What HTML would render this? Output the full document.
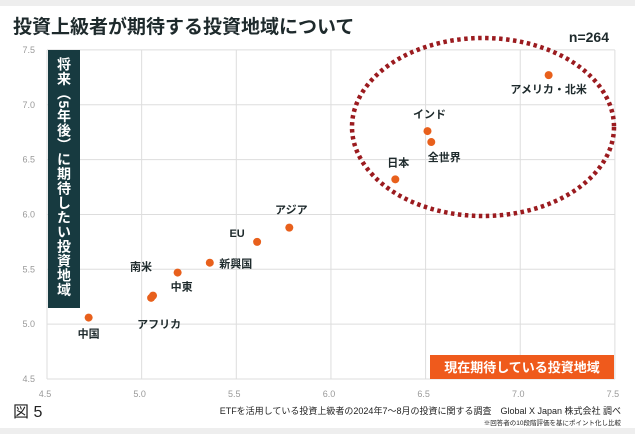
<!DOCTYPE html>
<html><head><meta charset="utf-8">
<style>
body{margin:0;width:635px;height:434px;overflow:hidden;background:#fff;font-family:"Liberation Sans","Noto Sans CJK JP",sans-serif;}
svg text{font-family:"Liberation Sans","Noto Sans CJK JP",sans-serif;}
</style></head><body>
<svg width="635" height="434">
<rect x="0" y="0" width="635" height="6" fill="#eeeeee"/>
<rect x="0" y="428" width="635" height="6" fill="#eeeeee"/>
<text x="13" y="33" font-size="19" font-weight="bold" fill="#1e2a2c">投資上級者が期待する投資地域について</text>
<text x="609" y="42" font-size="14" font-weight="bold" fill="#1e2a2c" text-anchor="end">n=264</text>
<g id="grid"></g>
<g id="ticks"></g>
<rect x="48" y="50" width="32" height="258" fill="#173a40"/>
<text font-size="14" font-weight="bold" fill="#fff" writing-mode="tb" glyph-orientation-vertical="0" x="64" y="57" letter-spacing="0.5">将来（5年後）に期待したい投資地域</text>
<rect x="430" y="355" width="184" height="24" fill="#ef5a1c"/>
<text x="522" y="372" font-size="13" font-weight="bold" fill="#fff" text-anchor="middle">現在期待している投資地域</text>
<ellipse cx="483" cy="127" rx="131" ry="89" fill="none" stroke="#9b1b1f" stroke-width="4.5" stroke-dasharray="3.5 3.5"/>
<g id="points"></g>
<text x="13" y="417" font-size="16" font-family="Liberation Serif,serif" fill="#222">図 5</text>
<text x="621" y="414" font-size="9" fill="#222" text-anchor="end">ETFを活用している投資上級者の2024年7～8月の投資に関する調査　Global X Japan 株式会社 調べ</text>
<text x="621" y="425" font-size="6.5" fill="#222" text-anchor="end">※回答者の10段階評価を基にポイント化し比較</text>
</svg>
<script>
const names=["中国","アフリカ","南米","中東","新興国","EU","アジア","日本","インド","全世界","アメリカ・北米"];
const xVals=[4.72,5.05,5.06,5.19,5.36,5.61,5.78,6.34,6.51,6.53,7.15];
const yVals=[5.06,5.24,5.26,5.47,5.56,5.75,5.88,6.32,6.76,6.66,7.27];
const ticks=["4.5","5.0","5.5","6.0","6.5","7.0","7.5"];
const labelOff=[[0,20],[8,30],[-12,-25],[4,18],[26,5],[-20,-5],[2,-14],[3,-13],[2,-13],[13,19],[0,18]];
const ns="http://www.w3.org/2000/svg";
const X=v=>47+(v-4.5)*189.3, Y=v=>379-(v-4.5)*109.7;
function mk(t,a,p){const e=document.createElementNS(ns,t);for(const k in a)e.setAttribute(k,a[k]);p.appendChild(e);return e;}
const grid=document.getElementById('grid'),tk=document.getElementById('ticks'),pts=document.getElementById('points');
ticks.forEach(t=>{const v=+t;
 let l=mk('line',{x1:X(v),x2:X(v),y1:50,y2:379,stroke:'#dddddd','stroke-width':1},grid);
 
 
 l=mk('line',{x1:X(4.5),x2:X(7.5),y1:Y(v),y2:Y(v),stroke:'#dddddd','stroke-width':1},grid);
 
 
 let a=mk('text',{x:X(v)-2,y:397,'font-size':9,fill:'#999','text-anchor':'middle'},tk);a.textContent=t;
 
 
 a=mk('text',{x:35,y:Y(v)+3,'font-size':9,fill:'#999','text-anchor':'end'},tk);a.textContent=t;
 
 
});
names.forEach((n,i)=>{const cx=X(xVals[i]),cy=Y(yVals[i]);
 const c=mk('circle',{cx:cx,cy:cy,r:4,fill:'#e8601c'},pts);
 
 
 const t=mk('text',{x:cx+labelOff[i][0],y:cy+labelOff[i][1],'font-size':11,'font-weight':'bold',fill:'#1e2a2c','text-anchor':'middle'},pts);t.textContent=n;
 
 
});
</script>
</body></html>
